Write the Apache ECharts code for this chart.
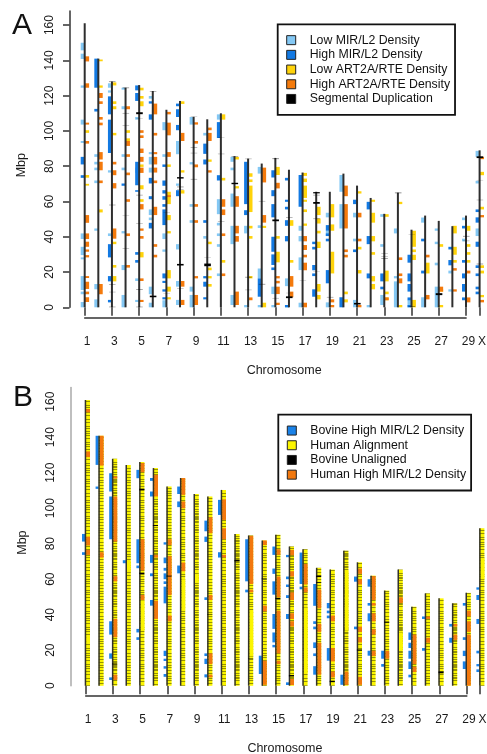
<!DOCTYPE html>
<html><head><meta charset="utf-8">
<script src="https://cdn.jsdelivr.net/npm/echarts@6/dist/echarts.min.js"></script>
<style>html,body{margin:0;padding:0;background:#fff}#c{width:487px;height:754px;filter:blur(0.45px)}</style>
</head><body><div id="c"></div>
<script>
// Chromosome 30 is X. Every row is [chromosome, startMbp, endMbp].
const tickChromosomes=[1,3,5,7,9,11,13,15,17,19,21,23,25,27,29,30];
const mbpTicks=[0,20,40,60,80,100,120,140,160];
const lengthsA=[161,141,128,124.5,126,122.6,112,117,108,106.6,110,85.7,84.3,81.5,84.7,78,76.4,65.5,65.5,75.8,69,62,53,65,44,52,49,46,52,89];
const lengthsB=[161,140.8,127.8,124.4,126,122.6,112.2,117,108,106.6,110.3,85.5,84.6,81.8,85,78.4,76.9,66.4,65.4,76,69.5,62,53.6,65.4,44.5,52,49.2,46.4,52.3,88.7];

const lowMIR=[[1,145.7,150],[1,140.8,143.8],[1,124.5,125.8],[1,103.6,106.4],[1,93.2,94.3],[1,38.7,41.9],[1,29.6,34.3],[1,27.2,28.3],[1,9.8,17.7],[1,7.4,8.9],[1,0,3],
[2,85.3,86.8],[2,81,82.5],[2,77.7,79.2],[2,70.4,71.9],[2,43.4,44.7],[2,10.2,13.2],[2,0,4.5],
[3,124.5,127],[3,121.7,123],[3,76.4,77.7],[3,40.4,41.9],
[4,123.4,124.5],[4,112.3,114],[4,85.3,86.8],[4,77.7,79.2],[4,41.9,43.2],[4,21.1,24],[4,0,7],
[5,106.4,107.9],[5,76.2,79.2],[5,14.9,16.4],[5,3,4.2],
[6,118.3,119.8],[6,86.8,88],[6,81,85.3],[6,76.4,79.2],[6,52.3,55.5],[6,49.4,50.9],[6,7.4,11.7],[6,0,2.6],
[7,85.3,86.8],[7,100.4,105],[7,38.7,41.9],[7,31.5,32.8],[7,0,4],
[8,86.8,94.3],[8,68.9,70.2],[8,32.8,35.8],[8,11.7,14.9],[8,1.3,4.2],
[9,103.6,107.9],[9,81,82.3],[9,57,58.5],[9,47.9,49.4],[9,8.9,11.7],[9,0,7],
[10,97.4,98.9],[10,38.9,40.4],
[11,106.4,109.4],[11,52.8,61.3],[11,46.4,47.9],[11,40.4,41.9],[11,34.3,35.8],[11,17.7,19.2],
[12,82.5,85.3],[12,77.7,79.2],[12,57,64.5],[12,35.8,46.2],[12,1.3,7],
[13,52.3,55],[13,41.9,46.2],[13,0,1.3],
[14,75.8,79.6],[14,45,46.5],[14,16.4,22],[14,0,1.3],
[15,7.5,11.7],[15,0,1.3],
[16,12,16.4],[16,0,1.3],
[17,43.4,46.2],[17,37.4,40.4],[17,21.1,28.3],[17,0,2.6],
[19,51,53.6],[19,40.4,43.4],[19,0,2.8],
[20,65.5,75],[20,44.7,58.5],
[21,51,53.6],[21,37.4,38.9],[21,0,4.2],
[22,0,1.3],
[23,51.3,52.8],[23,34.3,35.8],[23,1.3,7],
[24,41.9,44.7],[24,16.4,17.7],[24,0,14.7],
[25,0,4.2],
[26,48,50.9],[26,0,5.7],
[27,43.4,44.7],[27,35.8,37.2],[27,23.8,25.3],[27,0,11.7],
[28,19.2,20.8],[28,8.9,10.2],
[29,49.4,50.9],[29,37.4,38.9],
[30,85.3,88.7],[30,70.2,71.7],[30,40.4,44.7]];

const highMIR=[[1,81,85.3],[1,73.4,74.9],
[2,124.5,141],[2,111,112.5],
[3,109.4,119.6],[3,87.5,106.4],[3,28.3,35.8],[3,14.7,17.7],[3,2.8,4.2],
[4,68.9,70.2],
[5,123,125.8],[5,117,121.5],[5,69.2,82.5],[5,65.5,66.4],[5,29.8,31.3],[5,25.3,26.8],
[6,115.5,116.8],[6,106.4,109.4],[6,70.2,73.4],[6,61.3,63],[6,44.7,47.9],
[7,79.6,81],[7,68.9,71.9],[7,64.5,66.4],[7,61,63],[7,57,58.5],[7,46.6,55.5],[7,16.4,19.2],[7,13.8,15],[7,8.9,10.2],[7,4.5,5.7],
[8,114,115.5],[8,107.9,112.3],[8,100.4,103.4],[8,63,66.4],
[10,87,92.8],[10,81,83.8],[10,47.9,49.4],[10,16.4,17.7],[10,11.7,14.5],[10,4.5,5.7],
[11,96,105],[11,71.9,74.9],
[13,58.5,82.5],[13,52.3,55],
[14,6,16.4],
[15,73.6,77.7],[15,63,66.4],[15,51,58.5],[15,31.5,40],[15,24,30],[15,21.1,22.6],
[16,71.9,73.4],[16,59.8,61],[16,55.5,57],[16,46.2,49.4],[16,37.4,40.4],[16,0,1.3],
[17,57,75],
[18,35.8,37.2],[18,32.8,34.3],[18,21,24],[18,17.7,19.2],[18,6,10.2],
[19,43.4,46.6],[19,40.4,41.9],[19,37.4,38.9],[19,13.6,21.1],
[20,0,5.7],
[21,58.5,61],[21,31.3,32.8],
[22,55.5,59.8],[22,35.8,40.4],[22,16.4,19.2],
[23,14.7,19.2],[23,10.2,11.7],
[25,25.3,29.8],[25,14.7,19.2],[25,8.9,13.2],[25,4,5.6],[25,0,1.3],
[26,37.4,38.9],[26,19.2,20.8],
[28,32.8,34.3],[28,23.8,26.8],
[29,44.7,46.2],[29,25.3,26.8],[29,16.4,19.2],[29,8.9,13.2],[29,4,5.6],
[30,54,55.5],[30,48,51],[30,34.3,37.2],[30,22.3,23.8],[30,17.7,19.2],[30,10.2,11.7],[30,7.4,8.9]];

const lowART=[[1,73.5,75],[1,69,70],[1,98.9,100.4],
[2,139.5,140.5],[2,124.5,125.8],[2,53.8,55.5],
[3,125.8,127.5],[3,115.3,116.8],[3,112.3,114],[3,97.5,98.9],[3,35.8,37.2],[3,22.5,24],[3,14.7,17.7],
[4,98.9,100.4],[4,94.3,95.8],
[5,123,124.5],[5,118.3,119.8],[5,114,116.8],[5,66.9,69.2],[5,79.6,81],[5,59.8,61.3],[5,28.3,31.3],
[7,79.6,81],[7,58.5,65.5],[7,49.4,52.3],[7,41.9,43.2],[7,16.4,21.1],[7,8.9,11.7],[7,4.5,5.7],
[8,115.3,116.8],[8,76.4,77.7],[8,64.5,66.4],
[10,82.5,83.8],[10,35.8,37.2],[10,21,22.5],[10,16.4,17.7],[10,11.7,13.2],
[11,106.4,109.4],[11,71.9,73.4],[11,25.3,26.8],
[12,83.8,85.3],[12,67.4,68.7],
[13,74,76],[13,71,72.5],[13,54,69],[13,44.7,46.2],[13,38.9,40.4],[13,16.4,17.7],
[14,45,46.2],[14,0,2.6],
[15,75,79.6],[15,38.9,40.4],[15,25.5,31.5],
[16,46.2,49.4],[16,25.3,26.8],
[17,74.5,76.2],[17,71,73],[17,62,69],[17,59.8,61],[17,54,55.5],[17,46.2,47.5],
[18,52.3,57],[18,47.5,50.4],[18,41.9,43.4],[18,33.6,37.2],[18,8.9,13.2],[18,4.5,7],
[19,51,58.5],[19,43.4,47],[19,19.2,31.5],
[20,7.4,8.9],[20,2.8,4.5],
[21,64.5,65.8],[21,32.8,34.3],[21,19.2,21.1],
[22,59.8,61],[22,48,53.6],[22,37.4,40.4],[22,29.8,31.3],[22,14.7,17.7],[22,10.2,13.2],
[23,51.3,52.8],[23,14.7,20.8],[23,7.4,8.9],[23,4,5.6],
[24,58.5,59.8],[24,0,1.3],
[25,34.3,43.4],[25,31.3,32.8],[25,26.8,29.8],[25,0,4.2],
[26,19.2,25.3],
[27,34.3,35.8],[27,8.9,10.2],[27,0,1.3],
[28,41.9,46.2],[28,29.8,34.3],[28,25.3,26.8],
[29,43.4,46.2],[29,34.3,35.8],[29,29.8,31.3],[29,25.3,26.8],
[30,74.9,76.8],[30,55.5,57],[30,22.3,23.8],[30,19.2,20.8],[30,5.7,7]];

const highART=[[1,139.4,142.3],[1,124.5,127],[1,103.6,104.7],[1,92.8,94.3],[1,47.9,52.3],[1,38.7,41.9],[1,34.3,37.2],[1,31.5,32.8],[1,28.3,29.6],[1,16.6,17.7],[1,10.4,14.5],[1,7.4,8.9],[1,3,5.7],
[2,118.7,121.5],[2,115.3,116.8],[2,106.4,107.9],[2,103.2,104.7],[2,83.8,88],[2,77.7,82.5],[2,70.4,71.9],[2,7.4,13.2],
[3,81,82.5],[3,74.9,77.7],[3,67.4,70.4],[3,38.9,44.7],
[4,112.3,114],[4,91.5,94.3],[4,85.3,86.8],[4,74.9,76.4],[4,59.8,61.3],[4,40.4,41.9],[4,22.5,24],
[5,98.9,100.4],[5,96,97.5],[5,87.5,90],[5,82.5,85.3],[5,76.2,79.2],[5,55.5,58.5],[5,43.4,44.7],[5,38.9,40.4],[5,14.9,16.4],[5,3,4.2],
[6,109.4,115.5],[6,97.4,98.9],[6,86.8,88],[6,81,85.3],[6,76.4,79.2],[6,70.4,71.9],[6,52.3,57],[6,34.3,35.8],[6,28.3,29.8],
[7,109.4,110.8],[7,97.5,104.7],[7,85.3,88],[7,62.5,63.6],
[8,94.3,98.9],[8,11.7,14.9],[8,1.3,4.2],
[9,103.6,104.9],[9,92.8,94.3],[9,79.4,81],[9,57,58.5],[9,47.9,49.4],[9,16.4,17.7],[9,1.3,7],
[10,100.4,101.9],[10,94.3,98.9],[10,76.4,77.7],
[11,57,61.3],[11,52.3,55.5],[11,40.4,41.9],[11,17.7,19.2],
[12,57,63],[12,41.9,46.2],[12,37.2,40.4],[12,1.3,8.9],
[13,4,5.6],
[14,70.8,79.2],[14,48,52.3],
[15,67.4,70.6],[15,16.4,17.7],[15,13.6,15],[15,7.5,11.7],[15,1.3,2.6],
[16,11.7,17.7],[16,5.7,8.9],
[17,37.4,40.4],[17,32.5,35.3],[17,28.3,29.8],[17,21,25.3],[17,0,2.6],
[19,2.8,4.5],[19,0,1.3],
[20,63,69],[20,44.7,58.5],[20,31.3,32.8],[20,28.3,29.8],
[21,51,53.6],[21,37.4,38.9],[21,0,1.3],
[23,4,5.6],
[24,26.8,28.3],[24,17.7,19.2],[24,13.6,16.4],
[26,28.3,29.8],[26,4.5,7],
[27,8.9,11.7],
[28,20.8,22.2],[28,8.9,10.2],
[29,19.2,20.8],[29,2.8,5.6],
[30,84,85.3],[30,51,52.3],[30,2.8,4.2]];

const segDup=[[3,127.7,128.2],[3,57.8,58.2],[3,12.8,13.2],[3,8.5,8.8],[3,0,0.4],
[4,124.2,124.7],[4,109.8,110.2],[4,102.8,103.1],[4,51.8,52],[4,33.2,33.5],
[5,109.5,110.6],[5,107,107.2],[5,63.4,63.8],[5,47.3,47.6],[5,9.8,10.3],[5,0,0.4],
[6,5.7,6.6],[6,122.2,122.6],
[7,53.5,53.7],[7,7.8,8],
[8,73,73.8],[8,68,68.5],[8,66.5,66.8],[8,23.7,24.6],[8,10.5,10.8],
[9,90.4,90.8],[9,87.3,87.6],[9,72.4,72.8],[9,108,108.2],
[10,23.3,24.8],[10,28,28.2],
[11,96,96.2],[11,86.8,87.1],[11,48.4,48.7],
[12,69.8,70.6],[12,85.2,85.6],
[13,16.8,17.3],[13,9.7,10],[13,84,84.3],
[14,12.8,13.3],[14,60,60.3],
[15,84,84.6],[15,48.8,49.8],[15,5,5.3],
[16,50.8,51.2],[16,5.2,6.2],[16,8,8.2],
[17,15,15.2],
[18,64.6,65.3],[18,63.4,63.8],[18,58.7,59.7],[18,50,50.4],[18,20,20.2],
[19,5.5,5.9],
[21,1.6,2.5],
[23,30.5,30.8],[23,28.8,29.1],[23,27.4,27.9],
[24,64.6,65.2],
[25,0.2,0.7],[25,41,41.2],
[27,6.9,8],
[29,40,40.5],[29,37.5,37.8],
[30,84.6,85.6],[30,60.7,61],[30,24.3,24.8],[30,72,72.2]];

const bovineHigh=[[1,81.2,85.5],[1,73.7,75.2],
[2,124.4,140.8],[2,110.9,112.2],
[3,109.4,119.7],[3,82.5,106.6],[3,28.8,36.3],[3,15.2,18.2],[3,3.2,4.7],
[4,69,70.7],
[5,116.9,121.6],[5,69,82.5],[5,66.2,67.7],[5,30,32],[5,25.8,27.3],
[6,115.4,117],[6,106.6,109.4],[6,69.2,73.7],[6,61.7,63.3],[6,45.1,48.3],
[7,79.5,80.8],[7,69,72.2],[7,64.8,66.4],[7,60,63.3],[7,57.3,58.8],[7,46.4,55.8],[7,16.7,19.7],[7,13.9,15.2],[7,9.6,11],[7,5,6.6],
[8,108,112.2],[8,100.6,103.8],[8,63.3,67.7],
[10,87,93],[10,81,84],[10,48.3,49.8],[10,16.7,18.2],[10,12.2,15.2],[10,4.7,6.4],
[11,96.2,104.7],[11,72.2,75.2],
[13,58.8,82.5],[13,52.6,54.1],
[14,6.6,16.9],
[15,73.7,78.4],[15,63,66],[15,51.3,58.8],[15,32,40.4],[15,24.4,30],[15,21.6,23],
[16,72.4,73.7],[16,60,61.5],[16,55.6,57],[16,49.4,51],[16,37.6,40.4],[16,0.4,1.9],
[17,57.3,75],[17,54.3,55.8],
[18,45,57.3],[18,34.8,36.3],[18,31.8,33.3],[18,21.2,24.4],[18,16.7,18.2],[18,6.2,11],
[19,43.6,46.6],[19,40.8,42.3],[19,38,39.5],[19,14.1,21.2],
[20,0.5,6.2],
[21,58.6,61.5],[21,31.8,33.3],
[22,55.8,60],[22,45.1,46.6],[22,36.3,40.8],[22,16.9,19.7],
[23,15.2,19.7],[23,10.7,12.2],
[25,25.8,30],[25,21.2,24.2],[25,15.2,19.7],[25,9.4,13.7],[25,4.7,6.2],
[26,37.6,39],[26,19.7,21.2],
[28,33.3,34.8],[28,24.2,27],
[29,45.1,46.6],[29,25.8,27.3],[29,16.7,19.7],[29,9.4,13.7],
[30,54.1,55.4],[30,48.3,51.1],[30,34.8,37.6],[30,18.2,19.7],[30,10.9,12.2],[30,7.7,9.2]];

const humanHigh=[[1,154,155.8],[1,128.8,132],[1,79,84],[1,73.7,76.5],
[2,124,140.8],[2,72.2,75.2],
[3,116.7,117.9],[3,81.2,106.6],[3,58.8,61.7],[3,27.3,37.6],[3,3.2,6.2],
[5,120.3,125.4],[5,65,82.5],[5,48.3,51.1],
[6,106.6,118.8],[6,72.2,73.7],[6,37.6,47.9],
[7,79.3,82.5],[7,51.1,73],[7,36.3,39.5],
[8,107.5,117],[8,100,103.8],[8,64.5,69.4],
[10,85.9,94.9],[10,48.3,51.1],[10,12.2,18.2],[10,4.7,6.2],
[11,93.4,105],[11,82.5,88.7],[11,72.2,73.7],
[13,57.3,84.4],[13,52.6,54.1],
[14,79.3,81.8],[14,41.9,45.1],[14,0.5,14.1],
[15,73.7,76.9],[15,49.8,61.5],[15,18.2,42.3],[15,12.2,14.1],
[16,73.5,76.5],[16,61.5,64.5],[16,48.3,52.6],[16,37.6,40.8],[16,33.3,36.3],[16,0.4,3.8],
[17,57,68.6],[17,52.6,55.4],
[18,43.6,54.1],[18,30.3,34.8],[18,6.2,24.2],
[19,36.3,39.5],[19,13.7,21.2],[19,4.7,8],
[20,0.5,8],
[21,63,66],[21,57,60],[21,30.3,33.3],[21,24.4,27.3],[21,0.5,5],
[22,48.3,61.7],[22,45.1,46.6],[22,36.3,40.8],[22,28.8,31.8],[22,16.7,19.7],
[23,15.2,19.7],
[24,46.6,49.8],
[25,12.2,28.8],[25,7.7,10.7],
[26,37.6,39],[26,24.2,27],
[28,33.3,34.8],[28,25.8,28.8],
[29,39,42.3],[29,30.3,36.3],[29,0,28.8]];

const bovineUnaligned=[[5,110,111],[5,62.9,63.7],[7,61.5,62],[12,70,70.8],[13,15,15.3],[15,48.8,49.5],[16,5.2,6],[18,61.2,62],[18,58,58.4],[19,2,2.8],[21,19.8,20.4],[23,35.5,36.1],[27,7,8],[3,12,12.5],[6,90,90.5],[10,40,40.3],[14,60,60.4]];
const pureYellow=[[1,24,28],[5,31,48],[8,42,60],[9,58,63],[13,16.5,42.5],[17,7,44],[20,31,65],[24,20,30],[4,64,70],[30,60,72]];
const stripeStyle=[0,1,2,1,0,2,1,0,2,1,0,2,1,0,1,2,0,1,0,2,0,0,1,2,0,1,0,2,1,0];

const stripeRows=['1010010010001001000101001010100100010','0100100100101010010010001001001001001','1101100101011010001010110100101011011'];
function makePattern(rows){
  const cv=document.createElement('canvas');cv.width=4;cv.height=rows.length;
  const g=cv.getContext('2d');
  for(let i=0;i<rows.length;i++){if(rows[i]==='1'){g.fillStyle='rgba(50,50,0,.5)';g.fillRect(0,i,4,1);}}
  return cv;
}
const patterns=stripeRows.map(makePattern);

function barSeries(name,data,color,dx0,dx1,panel,thinOpacity){
  return {
    type:'custom',name:name,data:data,xAxisIndex:panel,yAxisIndex:panel,
    encode:{x:0,y:[1,2]},clip:false,silent:true,itemStyle:{color:color},
    renderItem:function(params,api){
      const a=api.coord([api.value(0),api.value(1)]),b=api.coord([api.value(0),api.value(2)]);
      const h=a[1]-b[1];
      const op=(thinOpacity&&h<1.2)?thinOpacity:1;
      return {type:'rect',shape:{x:a[0]+dx0,y:b[1],width:dx1-dx0,height:h},style:{fill:color,opacity:op}};
    }};
}
const spineA=lengthsA.map((l,i)=>[i+1,0,l]);
const spineB=lengthsB.map((l,i)=>[i+1,0,l]);

const COL={low:'#84c8f4',high:'#1279e2',yel:'#ffd30a',ora:'#f47a0c'};
const series=[
  barSeries('Low MIR/L2 Density',lowMIR,COL.low,-4,0,0),
  barSeries('High MIR/L2 Density',highMIR,COL.high,-4,0,0),
  barSeries('Low ART2A/RTE Density',lowART,COL.yel,0,4.4,0),
  barSeries('High ART2A/RTE Density',highART,COL.ora,0,4.4,0),
  barSeries('Chromosome A',spineA,'#2e2e2e',-1,1,0),
  barSeries('Segmental Duplication',segDup,'#000',-3,3.6,0,0.4),
  barSeries('Human Alignment',spineB,'#fbf500',-0.5,4.3,1),
  {type:'custom',name:'Alignment gaps',data:spineB,xAxisIndex:1,yAxisIndex:1,encode:{x:0,y:[1,2]},clip:false,silent:true,
    renderItem:function(params,api){
      const a=api.coord([api.value(0),api.value(1)]),b=api.coord([api.value(0),api.value(2)]);
      return {type:'rect',shape:{x:a[0]-0.5,y:b[1],width:4.8,height:a[1]-b[1]},
        style:{fill:{image:patterns[stripeStyle[api.value(0)-1]],repeat:'repeat'}}};
    }},
  barSeries('Clean alignment',pureYellow,'#fbf500',0.5,4.3,1),
  barSeries('Bovine High MIR/L2 Density',bovineHigh,'#1a82e8',-3.7,-0.6,1),
  barSeries('Human High MIR/L2 Density',humanHigh,'#f2780e',0.4,4.3,1),
  barSeries('Chromosome B',spineB,'#33322a',-1,0.5,1),
  barSeries('Bovine Unaligned',bovineUnaligned,'#000',-0.8,4.3,1)
];

function xAxes(grid,offset){
  return {type:'value',gridIndex:grid,min:1,max:30,position:'bottom',offset:offset,
    splitLine:{show:false},axisLine:{show:false},
    axisTick:{show:true,length:8.5,lineStyle:{color:'#333',width:1.5},customValues:tickChromosomes},
    axisLabel:{margin:18,fontFamily:'Liberation Sans',fontSize:12,color:'#1a1a1a',padding:[0,0,0,5],hideOverlap:false,
      customValues:tickChromosomes,formatter:v=>v===30?'X':String(v)},
    name:'Chromosome',nameLocation:'middle',nameGap:46,nameTextStyle:{fontFamily:'Liberation Sans',fontSize:12.5,color:'#1a1a1a',padding:[0,0,0,4]}};
}
function lineAxis(grid,offset){
  return {type:'value',gridIndex:grid,min:1,max:29,position:'bottom',offset:offset,splitLine:{show:false},
    axisLine:{show:true,onZero:false,lineStyle:{color:'#333',width:1.5}},axisTick:{show:false},axisLabel:{show:false}};
}
function yAxes(grid,lineColor,tickShow,offset){
  return {type:'value',gridIndex:grid,min:0,max:168,position:'left',offset:offset,splitLine:{show:false},
    axisLine:{show:true,onZero:false,lineStyle:{color:lineColor,width:1.5}},
    axisTick:{show:tickShow,length:6.5,lineStyle:{color:'#333',width:1.5},customValues:mbpTicks},
    axisLabel:{rotate:90,margin:13.5,fontFamily:'Liberation Sans',fontSize:12,color:'#1a1a1a',customValues:mbpTicks,showMaxLabel:true},
    name:'Mbp',nameLocation:'middle',nameGap:41,nameTextStyle:{fontFamily:'Liberation Sans',fontSize:12.5,color:'#1a1a1a',padding:[0,12,0,0]}};
}
function hiddenY(grid){return {type:'value',gridIndex:grid,min:0,max:168,show:false};}

function legend(names,left,top){
  return {show:true,orient:'vertical',left:left,top:top,data:names,selectedMode:false,
    itemWidth:9,itemHeight:9,itemGap:0,icon:'rect',padding:[8.5,5,8.5,8.5],
    backgroundColor:'#fff',borderColor:'#111',borderWidth:1.8,
    itemStyle:{borderColor:'#222',borderWidth:1},
    textStyle:{fontFamily:'Liberation Sans',fontSize:12.3,color:'#111',lineHeight:14.7,padding:[0,0,0,9]}};
}

const chart=echarts.init(document.getElementById('c'),null,{renderer:'canvas'});
chart.setOption({
  animation:false,backgroundColor:'#fff',
  grid:[
    {left:84.7,width:394.9,top:11,height:296.3,outerBoundsMode:'none'},
    {left:85.7,width:394.4,top:387.5,height:298.2,outerBoundsMode:'none'},
    {left:84.7,width:381.4,top:11,height:296.3,outerBoundsMode:'none'},
    {left:85.7,width:381.1,top:387.5,height:298.2,outerBoundsMode:'none'}
  ],
  xAxis:[xAxes(0,10.7),xAxes(1,10.3),lineAxis(2,10.7),lineAxis(3,10.3)],
  yAxis:[yAxes(0,'#333',true,15.2),yAxes(1,'#aaa',false,15.2),hiddenY(2),hiddenY(3)],
  legend:[
    legend(['Low MIR/L2 Density','High MIR/L2 Density','Low ART2A/RTE Density','High ART2A/RTE Density','Segmental Duplication'],277.7,24.3),
    legend(['Bovine High MIR/L2 Density','Human Alignment','Bovine Unaligned','Human High MIR/L2 Density'],278.3,414.7)
  ],
  graphic:[
    {type:'text',left:12,top:11,style:{text:'A',fontFamily:'Liberation Sans',fontSize:30,fill:'#111'}},
    {type:'text',left:13,top:383,style:{text:'B',fontFamily:'Liberation Sans',fontSize:30,fill:'#111'}}
  ],
  series:series
});
</script></body></html>
